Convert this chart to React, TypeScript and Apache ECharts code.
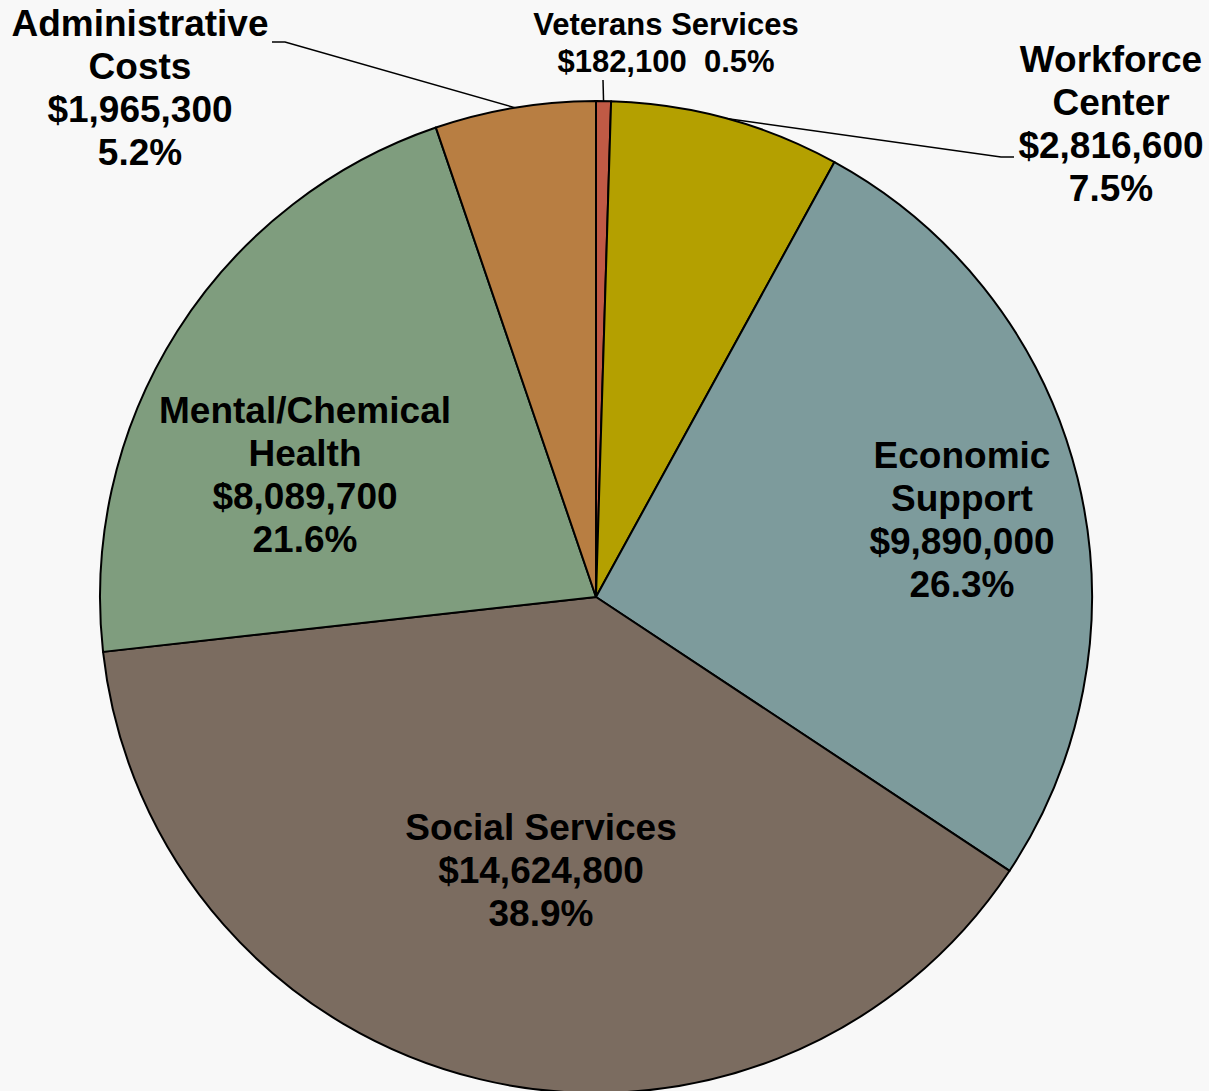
import React, { useEffect, useRef } from "react";
import * as echarts from "echarts";

const categories = [
  "Veterans Services",
  "Workforce\nCenter",
  "Economic\nSupport",
  "Social Services",
  "Mental/Chemical\nHealth",
  "Administrative\nCosts",
];
const amounts = [182100, 2816600, 9890000, 14624800, 8089700, 1965300];
const percentLabels = ["0.5%", "7.5%", "26.3%", "38.9%", "21.6%", "5.2%"];
const colors = ["#c05a45", "#b4a000", "#7d9b9c", "#7b6c60", "#7f9d7e", "#b87e42"];

const fmtMoney = (v: number) => "$" + v.toLocaleString("en-US");

export default function App() {
  const ref = useRef<HTMLDivElement>(null);
  useEffect(() => {
    document.body.style.margin = "0";
    document.body.style.background = "#f8f8f8";
    const chart = echarts.init(ref.current!, undefined, { renderer: "svg" });
    const labelPos = [
      { x: 666, y: 43, line: [603, 80] },
      { x: 1111, y: 124, line: [1001, 157, 1014, 157] },
      { x: 962, y: 520 },
      { x: 541, y: 870 },
      { x: 305, y: 475 },
      { x: 140, y: 88, line: [285, 42, 272, 42] },
    ];
    const data = categories.map((name, i) => ({
      name,
      value: amounts[i],
      itemStyle: { color: colors[i] },
      label: {
        position: i === 0 || i === 1 || i === 5 ? "outside" : "inside",
        fontSize: i === 0 ? 31 : 37,
        lineHeight: i === 0 ? 37 : 43,
      },
      labelLine: { show: i === 0 || i === 1 || i === 5 },
    }));
    chart.setOption({
      animation: false,
      backgroundColor: "#f8f8f8",
      series: [
        {
          type: "pie",
          center: [596, 597],
          radius: 496,
          startAngle: 90,
          clockwise: true,
          avoidLabelOverlap: false,
          data,
          itemStyle: { borderColor: "#000", borderWidth: 2 },
          label: {
            show: true,
            color: "#000",
            fontFamily: "Liberation Sans, Arial, sans-serif",
            fontWeight: "bold",
            align: "center",
            formatter: (p: any) => {
              const i = p.dataIndex;
              if (i === 0) return `${categories[i]}\n${fmtMoney(amounts[i])}  ${percentLabels[i]}`;
              return `${categories[i]}\n${fmtMoney(amounts[i])}\n${percentLabels[i]}`;
            },
          },
          labelLine: {
            lineStyle: { color: "#000", width: 1.5 },
            length: 20,
            length2: 10,
          },
          labelLayout: (params: any) => {
            const lp = labelPos[params.dataIndex];
            const res: any = { x: lp.x, y: lp.y, align: "center", verticalAlign: "middle" };
            if (lp.line && params.labelLinePoints) {
              const start = params.labelLinePoints[0];
              const pts: number[][] = [start];
              for (let k = 0; k < lp.line.length; k += 2) pts.push([lp.line[k], lp.line[k + 1]]);
              if (pts.length === 2) pts.push(pts[1]);
              res.labelLinePoints = pts;
            }
            return res;
          },
        },
      ],
    });
    return () => chart.dispose();
  }, []);
  return <div ref={ref} style={{ width: 1209, height: 1091 }} />;
}
